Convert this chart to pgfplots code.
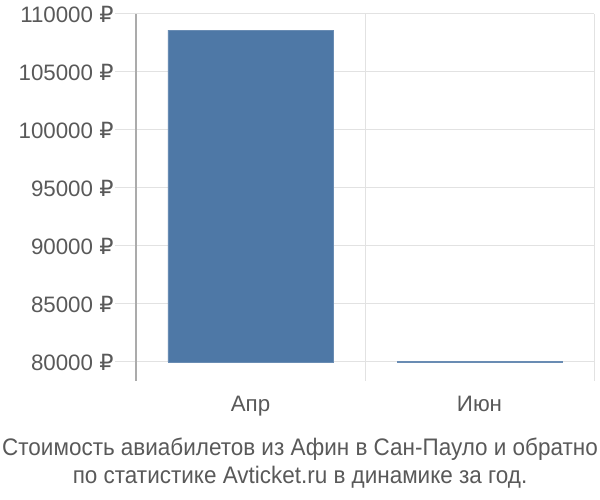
\documentclass[border=0pt]{standalone}
\usepackage{pgfplots}
\pgfplotsset{compat=1.18}
\usepackage{fontspec}
\setmainfont{Liberation Sans}
\newfontfamily\narrowfont[FakeStretch=0.94]{Liberation Sans}
\newfontfamily\rubfont{DejaVu Sans}
\definecolor{barblue}{HTML}{4E78A6}
\definecolor{txtgray}{HTML}{595959}
\definecolor{gridgray}{HTML}{E2E2E2}
\definecolor{axgray}{HTML}{ABABAB}
\begin{document}
\begin{tikzpicture}[x=1bp,y=1bp]
\begin{axis}[
  at={(0,0)}, anchor=south west,
  scale only axis,
  width=458bp, height=367bp,
  xmin=-0.5, xmax=1.5,
  ymin=78362, ymax=110000,
  axis y line*=left, axis x line*=bottom,
  x axis line style={draw=none},
  y axis line style={draw=axgray, line width=1.2pt},
  xtick={0,1}, xticklabels={Апр,Июн},
  x tick style={draw=none},
  extra x ticks={0.5,1.5}, extra x tick labels={},
  extra x tick style={grid=major, major tick length=0pt},
  ytick={80000,85000,...,110000},
  scaled y ticks=false,
  ymajorgrids,
  grid style={draw=gridgray, line width=1pt},
  y tick style={draw=gridgray, line width=1pt},
  tick align=outside, major tick length=21bp,
  /pgf/number format/assume math mode=true,
  /pgf/number format/fixed,
  /pgf/number format/1000 sep={},
  yticklabel={\pgfmathprintnumber{\tick} {\rubfont ₽}},
  ticklabel style={font=\fontsize{22.4}{26}\selectfont, text=txtgray},
  yticklabel style={xshift=2bp},
  xticklabel style={yshift=9bp},
  ybar stacked, bar width=165bp,
]
\addplot[draw=none, fill=none] coordinates {(0,80000) (1,80000)};
\addplot[fill=barblue, draw=barblue!85!white] coordinates {(0,28600) (1,80)};
\end{axis}
\node[anchor=base, text=txtgray, font=\narrowfont\fontsize{24}{27}\selectfont] at (164,-75) {Стоимость авиабилетов из Афин в Сан-Пауло и обратно};
\node[anchor=base, text=txtgray, font=\narrowfont\fontsize{24}{27}\selectfont] at (164,-102) {по статистике Avticket.ru в динамике за год.};
\pgfresetboundingbox
\path[use as bounding box] (-136,-119) rectangle (464,381);
\end{tikzpicture}
\end{document}
